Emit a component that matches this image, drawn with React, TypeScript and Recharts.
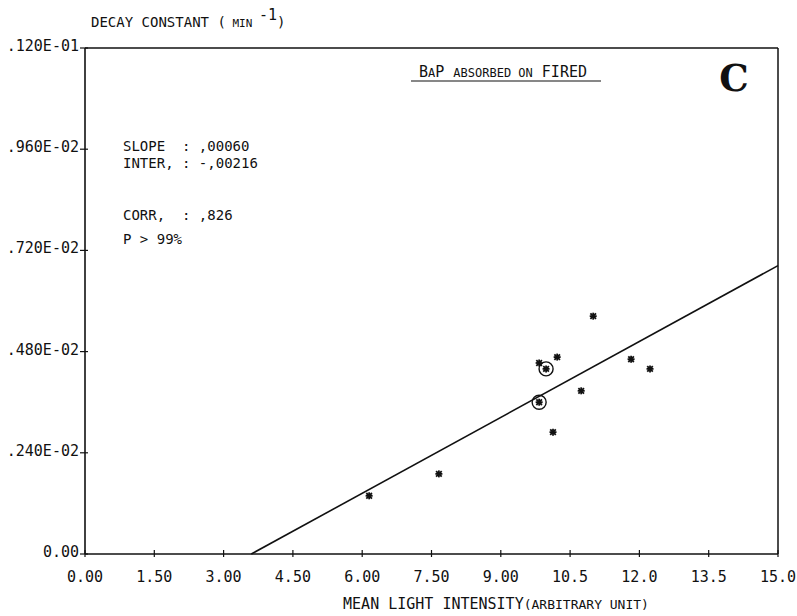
import {
  ReferenceLine,
  Scatter,
  ScatterChart,
  XAxis,
  YAxis,
} from "recharts";

// light intensity (arbitrary unit) vs decay constant (min^-1)
const plain = [
  { x: 6.15, y: 0.00138 },
  { x: 7.66, y: 0.0019 },
  { x: 9.83, y: 0.00453 },
  { x: 10.22, y: 0.00467 },
  { x: 10.13, y: 0.00289 },
  { x: 10.74, y: 0.00387 },
  { x: 11.0, y: 0.00564 },
  { x: 11.82, y: 0.00462 },
  { x: 12.23, y: 0.00439 },
];
const circled = [
  { x: 9.98, y: 0.00439 },
  { x: 9.83, y: 0.0036 },
];

const SLOPE = 0.0006;
const INTER = -0.00216;
const X_MAX = 15;
const fitLine = [
  { x: -INTER / SLOPE, y: 0 },
  { x: X_MAX, y: SLOPE * X_MAX + INTER },
];

const xTicks = [0, 1.5, 3, 4.5, 6, 7.5, 9, 10.5, 12, 13.5, 15];
const xLabels = ["0.00", "1.50", "3.00", "4.50", "6.00", "7.50", "9.00", "10.5", "12.0", "13.5", "15.0"];
const yTicks = [0, 0.0024, 0.0048, 0.0072, 0.0096, 0.012];
const yLabels = ["0.00", ".240E-02", ".480E-02", ".720E-02", ".960E-02", ".120E-01"];

const MONO = "'DejaVu Sans Mono', monospace";
const INK = "#111";

const Star = (props: any) => {
  const { cx, cy, ring } = props;
  const r = 3.5;
  return (
    <g stroke={INK} strokeWidth={1.8}>
      <line x1={cx - r} y1={cy} x2={cx + r} y2={cy} />
      <line x1={cx} y1={cy - r} x2={cx} y2={cy + r} />
      <line x1={cx - r * 0.8} y1={cy - r * 0.8} x2={cx + r * 0.8} y2={cy + r * 0.8} />
      <line x1={cx - r * 0.8} y1={cy + r * 0.8} x2={cx + r * 0.8} y2={cy - r * 0.8} />
      {ring && <circle cx={cx} cy={cy} r={7} fill="none" strokeWidth={1.4} />}
    </g>
  );
};

const XTick = (props: any) => {
  const { x, y, payload } = props;
  const i = xTicks.indexOf(payload.value);
  return (
    <g>
      <line x1={x} x2={x} y1={y - 4} y2={y + 3} stroke={INK} strokeWidth={1.2} />
      <text x={x} y={y + 28} textAnchor="middle" fontFamily={MONO} fontSize={15} fill={INK}>
        {xLabels[i]}
      </text>
    </g>
  );
};

const YTick = (props: any) => {
  const { x, y, payload } = props;
  const i = yTicks.indexOf(payload.value);
  return (
    <g>
      <line x1={x - 5} x2={x + 3} y1={y} y2={y} stroke={INK} strokeWidth={1.2} />
      <text x={x - 6} y={y + 3} textAnchor="end" fontFamily={MONO} fontSize={15} fill={INK}>
        {yLabels[i]}
      </text>
    </g>
  );
};

export default function App() {
  return (
    <div style={{ position: "relative", width: 797, height: 616, background: "#fff" }}>
      <style>{`body{margin:0}`}</style>
      <ScatterChart width={797} height={616} margin={{ top: 48, right: 19, bottom: 32, left: 0 }}>
        <XAxis
          type="number"
          dataKey="x"
          domain={[0, X_MAX]}
          ticks={xTicks}
          interval={0}
          tickSize={0}
          tickMargin={0}
          tickLine={false}
          axisLine={{ stroke: INK, strokeWidth: 1.6 }}
          tick={<XTick />}
          height={30}
        />
        <YAxis
          type="number"
          dataKey="y"
          domain={[0, 0.012]}
          ticks={yTicks}
          interval={0}
          tickSize={0}
          tickMargin={0}
          tickLine={false}
          axisLine={{ stroke: INK, strokeWidth: 1.6 }}
          tick={<YTick />}
          width={85}
        />
        <ReferenceLine y={0.012} stroke={INK} strokeWidth={1.5} />
        <ReferenceLine x={X_MAX} stroke={INK} strokeWidth={1.5} />
        <ReferenceLine segment={fitLine} stroke={INK} strokeWidth={1.6} ifOverflow="extendDomain" />
        <Scatter data={plain} shape={<Star />} isAnimationActive={false} />
        <Scatter data={circled} shape={<Star ring />} isAnimationActive={false} />
      </ScatterChart>
      <svg
        width={797}
        height={616}
        style={{ position: "absolute", left: 0, top: 0, pointerEvents: "none" }}
        fontFamily={MONO}
        fill={INK}
      >
        <text x={91} y={27} fontSize={14}>
          DECAY CONSTANT (
          <tspan fontSize={11}> MIN </tspan>
          <tspan fontSize={15} dy={-7}>-1</tspan>
          <tspan fontSize={14} dy={7}>)</tspan>
        </text>
        <text x={496} y={609} fontSize={15} textAnchor="middle">
          MEAN LIGHT INTENSITY<tspan fontSize={13}>(ARBITRARY UNIT)</tspan>
        </text>
        <text x={419} y={77} fontSize={15}>
          B<tspan fontSize={12}>A</tspan>P <tspan fontSize={12}>ABSORBED ON</tspan> FIRED
        </text>
        <line x1={411} x2={601} y1={81} y2={81} stroke={INK} strokeWidth={1.2} />
        <text x={734} y={91} fontSize={37} fontWeight="bold" fontFamily="'DejaVu Serif', serif" textAnchor="middle">
          C
        </text>
        <g fontSize={14}>
          <text x={123} y={151} xmlSpace="preserve">{"SLOPE  : ,00060"}</text>
          <text x={123} y={168} xmlSpace="preserve">{"INTER, : -,00216"}</text>
          <text x={123} y={220} xmlSpace="preserve">{"CORR,  : ,826"}</text>
          <text x={123} y={244} xmlSpace="preserve">{"P > 99%"}</text>
        </g>
      </svg>
    </div>
  );
}
